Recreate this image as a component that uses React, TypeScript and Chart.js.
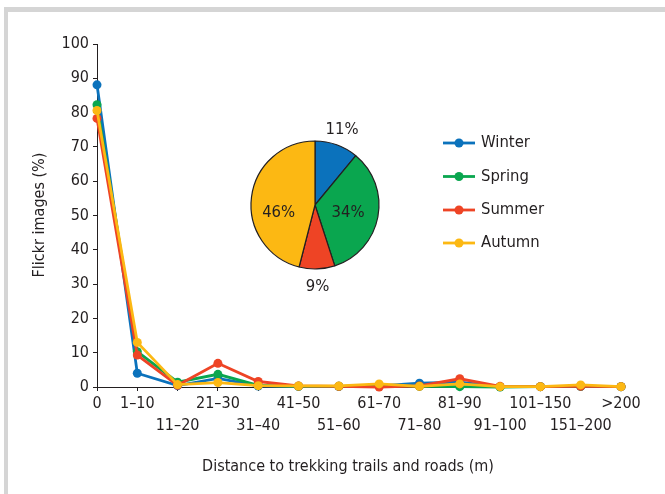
import React, { useEffect, useRef } from "react";
import { Chart, registerables } from "chart.js";

Chart.register(...registerables);

// ---- data ----
const categories = ["0", "1–10", "11–20", "21–30", "31–40", "41–50", "51–60", "61–70", "71–80", "81–90", "91–100", "101–150", "151–200", ">200"];
const seasons = ["Winter", "Spring", "Summer", "Autumn"];
const winter = [88.1, 4.0, 0.4, 2.5, 0.3, 0.2, 0.2, 0.3, 1.1, 1.4, 0.1, 0.1, 0.2, 0.1];
const spring = [82.3, 10.3, 1.4, 3.7, 0.5, 0.2, 0.2, 0.3, 0.2, 0.1, 0.0, 0.1, 0.2, 0.1];
const summer = [78.3, 9.3, 0.5, 6.9, 1.6, 0.3, 0.2, 0.0, 0.3, 2.4, 0.2, 0.1, 0.2, 0.1];
const autumn = [80.6, 13.0, 0.7, 1.3, 0.4, 0.3, 0.3, 0.9, 0.2, 0.9, 0.1, 0.1, 0.6, 0.1];
const seasonShares = [11, 34, 9, 46];
const yAxisTitle = "Flickr images (%)";
const xAxisTitle = "Distance to trekking trails and roads (m)";

// ---- style ----
const colors = ["#0b72bc", "#0aa64f", "#ee4425", "#fcb813"];
const TEXT = "#231f20";
const FAMILY = "'DejaVu Sans Condensed', 'Liberation Sans Narrow', sans-serif";

const decorPlugin = {
  id: "decor",
  afterDraw(chart: any) {
    const ctx = chart.ctx;
    ctx.save();
    ctx.fillStyle = TEXT;
    ctx.font = `16px ${FAMILY}`;
    ctx.textAlign = "center";
    ctx.textBaseline = "middle";
    // x title
    ctx.fillText(xAxisTitle, 348, 467);
    // y title
    ctx.save();
    ctx.translate(40, 215);
    ctx.rotate(-Math.PI / 2);
    ctx.fillText(yAxisTitle, 0, 0);
    ctx.restore();
    // legend
    const rows = [143, 176.5, 210, 243];
    seasons.forEach((s, i) => {
      const y = rows[i];
      ctx.strokeStyle = colors[i];
      ctx.lineWidth = 2.8;
      ctx.beginPath();
      ctx.moveTo(443, y);
      ctx.lineTo(475, y);
      ctx.stroke();
      ctx.fillStyle = colors[i];
      ctx.beginPath();
      ctx.arc(459, y, 4.5, 0, Math.PI * 2);
      ctx.fill();
      ctx.fillStyle = TEXT;
      ctx.textAlign = "left";
      ctx.font = `16.5px ${FAMILY}`;
      ctx.fillText(s, 481, y);
    });
    ctx.restore();
  },
};

const pieLabelFactor = [1.25, 0.53, 1.28, 0.58];
const pieLabelShift = [0, 2, 0, -19];

const pieLabelPlugin = {
  id: "pieLabels",
  afterDatasetsDraw(chart: any) {
    const ctx = chart.ctx;
    const meta = chart.getDatasetMeta(0);
    ctx.save();
    ctx.fillStyle = TEXT;
    ctx.font = `16.5px ${FAMILY}`;
    ctx.textAlign = "center";
    ctx.textBaseline = "middle";
    meta.data.forEach((arc: any, i: number) => {
      const p = arc.getProps(["x", "y", "startAngle", "endAngle", "outerRadius"], true);
      const mid = (p.startAngle + p.endAngle) / 2 + (pieLabelShift[i] * Math.PI) / 180;
      const r = p.outerRadius * pieLabelFactor[i];
      ctx.fillText(`${seasonShares[i]}%`, p.x + Math.cos(mid) * r, p.y + Math.sin(mid) * r);
    });
    ctx.restore();
  },
};

export default function App() {
  const lineRef = useRef<HTMLCanvasElement>(null);
  const pieRef = useRef<HTMLCanvasElement>(null);

  useEffect(() => {
    const series = [winter, spring, summer, autumn];
    const drawOrder = [3, 2, 1, 0];
    const tickFont = { family: FAMILY, size: 16, lineHeight: 1.35 };
    const lineChart = new Chart(lineRef.current!, {
      type: "line",
      data: {
        labels: categories,
        datasets: series.map((d, i) => ({
          label: seasons[i],
          data: d,
          borderColor: colors[i],
          backgroundColor: colors[i],
          borderWidth: 2.8,
          pointRadius: 4.5,
          pointBorderWidth: 0,
          pointBackgroundColor: colors[i],
          tension: 0,
          fill: false,
          clip: false as any,
          order: drawOrder[i],
        })),
      },
      options: {
        animation: false,
        responsive: false,
        maintainAspectRatio: false,
        layout: { padding: { top: 44, right: 44, left: 0, bottom: 0 } },
        plugins: { legend: { display: false }, tooltip: { enabled: false } },
        scales: {
          x: {
            type: "category",
            offset: false,
            grid: { drawOnChartArea: false, drawTicks: true, tickLength: 4, color: TEXT, lineWidth: 1 },
            border: { display: true, color: TEXT, width: 1 },
            ticks: {
              autoSkip: false,
              maxRotation: 0,
              minRotation: 0,
              padding: 2,
              color: TEXT,
              font: tickFont,
              callback: (_v: any, i: number) =>
                i <= 1 || i % 2 === 1 ? [categories[i], ""] : ["", categories[i]],
            },
            afterFit: (s: any) => {
              s.height = 107;
            },
          },
          y: {
            min: 0,
            max: 100,
            grid: { drawOnChartArea: false, drawTicks: true, tickLength: 4, color: TEXT, lineWidth: 1 },
            border: { display: true, color: TEXT, width: 1 },
            ticks: { stepSize: 10, padding: 4, color: TEXT, font: { family: FAMILY, size: 16 } },
            afterFit: (s: any) => {
              s.width = 97;
            },
          },
        },
      },
      plugins: [decorPlugin],
    });

    const pieChart = new Chart(pieRef.current!, {
      type: "pie",
      data: {
        labels: seasons,
        datasets: [
          {
            data: seasonShares,
            backgroundColor: colors,
            borderColor: TEXT,
            borderWidth: 1.2,
            radius: 64,
          } as any,
        ],
      },
      options: {
        animation: false,
        responsive: false,
        maintainAspectRatio: false,
        layout: { padding: 0 },
        plugins: { legend: { display: false }, tooltip: { enabled: false } },
      },
      plugins: [pieLabelPlugin],
    });

    return () => {
      lineChart.destroy();
      pieChart.destroy();
    };
  }, []);

  return (
    <div style={{ position: "fixed", left: 0, top: 0, width: 665, height: 494, background: "#fff", overflow: "hidden" }}>
      <div style={{ position: "absolute", left: 4, top: 7, width: 661, height: 5, background: "#d5d5d5" }} />
      <div style={{ position: "absolute", left: 4, top: 7, width: 4, height: 487, background: "#d5d5d5" }} />
      <canvas ref={lineRef} width={665} height={494} style={{ position: "absolute", left: 0, top: 0 }} />
      <canvas ref={pieRef} width={170} height={190} style={{ position: "absolute", left: 230, top: 110 }} />
    </div>
  );
}
